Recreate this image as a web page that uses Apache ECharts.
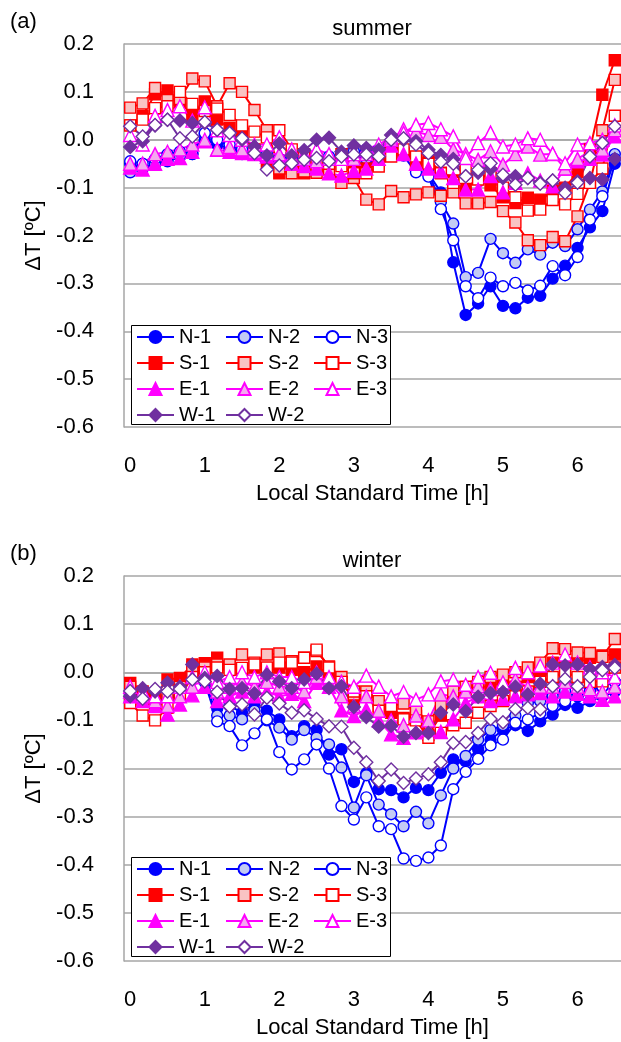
<!DOCTYPE html>
<html><head><meta charset="utf-8">
<script src="https://cdn.jsdelivr.net/npm/echarts@6/dist/echarts.min.js"></script>
<style>html,body{margin:0;padding:0;background:#fff}#c{width:621px;height:1042px}</style>
</head><body><div id="c"></div>
<script>
// categories: local standard time in minutes (10-min steps)
const timeMin = [0,10,20,30,40,50,60,70,80,90,100,110,120,130,140,150,160,170,180,190,200,210,220,230,240,250,260,270,280,290,300,310,320,330,340,350,360,370,380,390];
const seriesNames = ['N-1','N-2','N-3','S-1','S-2','S-3','E-1','E-2','E-3','W-1','W-2'];

// ---- summer (a) ----
const N1s = [-0.05,-0.06,-0.05,-0.04,-0.035,-0.03,0.0,-0.01,-0.02,-0.025,-0.03,-0.04,-0.05,-0.04,-0.03,-0.04,-0.05,-0.04,-0.03,-0.05,-0.04,-0.02,-0.02,-0.05,-0.07,-0.11,-0.256,-0.366,-0.342,-0.306,-0.347,-0.352,-0.33,-0.326,-0.29,-0.263,-0.226,-0.183,-0.149,-0.05];
const N2s = [-0.068,-0.06,-0.05,-0.045,-0.035,-0.02,0.01,0.0,-0.015,-0.03,-0.03,-0.04,-0.045,-0.03,-0.04,-0.05,-0.04,-0.03,-0.04,-0.04,-0.03,-0.01,-0.02,-0.04,-0.07,-0.13,-0.175,-0.287,-0.278,-0.207,-0.237,-0.257,-0.229,-0.24,-0.215,-0.222,-0.187,-0.146,-0.108,-0.03];
const N3s = [-0.045,-0.05,-0.04,-0.03,-0.025,-0.03,0.014,0.0,-0.01,-0.02,-0.02,-0.03,-0.04,-0.03,-0.03,-0.04,-0.035,-0.03,-0.025,-0.02,-0.02,-0.01,-0.033,-0.068,-0.077,-0.145,-0.21,-0.306,-0.331,-0.288,-0.306,-0.299,-0.315,-0.305,-0.264,-0.283,-0.245,-0.167,-0.118,-0.04];
const S1s = [0.03,0.05,0.095,0.103,0.08,0.05,0.08,0.042,0.025,0.01,-0.02,-0.05,-0.07,-0.06,-0.07,-0.06,-0.05,-0.03,-0.05,-0.06,-0.05,-0.017,-0.03,-0.049,-0.04,-0.069,-0.085,-0.103,-0.08,-0.095,-0.12,-0.132,-0.121,-0.125,-0.107,-0.1,-0.068,-0.02,0.094,0.166];
const S2s = [0.067,0.076,0.108,0.083,0.085,0.128,0.122,0.07,0.118,0.10,0.062,0.02,-0.06,-0.07,-0.066,-0.069,-0.062,-0.09,-0.08,-0.125,-0.135,-0.107,-0.12,-0.114,-0.11,-0.117,-0.11,-0.133,-0.133,-0.13,-0.149,-0.173,-0.21,-0.22,-0.203,-0.212,-0.16,-0.09,0.02,0.125];
const S3s = [0.03,0.042,0.066,0.07,0.10,0.075,0.06,0.065,0.052,0.03,0.017,0.005,0.02,-0.02,-0.03,-0.04,-0.05,-0.055,-0.07,-0.07,-0.056,-0.035,-0.02,-0.035,-0.05,-0.07,-0.09,-0.06,-0.083,-0.07,-0.1,-0.12,-0.148,-0.146,-0.126,-0.135,-0.113,-0.09,-0.06,0.05];
const E1s = [-0.058,-0.062,-0.05,-0.04,-0.038,-0.025,-0.003,-0.021,-0.025,-0.028,-0.03,-0.035,-0.04,-0.05,-0.055,-0.06,-0.07,-0.075,-0.065,-0.06,-0.04,-0.012,-0.03,-0.05,-0.06,-0.066,-0.08,-0.104,-0.104,-0.076,-0.11,-0.09,-0.07,-0.085,-0.097,-0.06,-0.045,-0.04,-0.031,0.007];
const E2s = [-0.05,-0.05,-0.03,-0.025,-0.02,-0.01,0.0,-0.02,-0.015,-0.02,-0.025,-0.03,-0.03,-0.035,-0.04,-0.045,-0.04,-0.035,-0.04,-0.03,-0.02,0.0,0.022,0.017,0.01,0.006,-0.02,-0.03,-0.042,-0.024,-0.052,-0.03,-0.014,-0.031,-0.03,-0.06,-0.04,-0.024,-0.021,0.02];
const E3s = [0.01,-0.01,0.05,0.062,0.07,0.04,0.068,0.02,0.01,0.0,-0.01,-0.01,0.005,-0.02,-0.03,-0.02,-0.03,-0.04,-0.03,-0.02,-0.01,0.005,0.014,0.031,0.035,0.022,0.007,-0.038,-0.007,0.015,-0.014,-0.01,0.003,0.0,-0.029,-0.049,-0.01,-0.007,0.0,0.03];
const W1s = [-0.015,-0.003,0.03,0.042,0.04,0.035,0.035,0.021,0.015,0.0,-0.014,-0.033,-0.008,-0.033,-0.022,0.0,0.004,-0.025,-0.012,-0.017,-0.021,0.01,0.0,-0.003,-0.021,-0.032,-0.04,-0.076,-0.069,-0.061,-0.08,-0.076,-0.08,-0.09,-0.085,-0.1,-0.087,-0.08,-0.083,-0.04];
const W2s = [0.028,0.007,0.031,0.042,0.003,0.007,0.037,0.021,0.014,0.003,-0.028,-0.062,-0.054,-0.049,-0.042,-0.038,-0.045,-0.035,-0.031,-0.031,-0.035,0.0,0.003,-0.01,-0.028,-0.046,-0.05,-0.076,-0.0625,-0.049,-0.073,-0.094,-0.08,-0.092,-0.085,-0.111,-0.09,-0.035,-0.007,0.028];

// ---- winter (b) ----
const N1w = [-0.04,-0.05,-0.06,-0.05,-0.03,0.0,-0.01,-0.075,-0.07,-0.084,-0.064,-0.08,-0.098,-0.133,-0.112,-0.12,-0.171,-0.16,-0.228,-0.21,-0.243,-0.245,-0.26,-0.24,-0.245,-0.209,-0.181,-0.185,-0.16,-0.14,-0.12,-0.11,-0.122,-0.102,-0.088,-0.068,-0.074,-0.06,-0.05,-0.04];
const N2w = [-0.05,-0.055,-0.06,-0.05,-0.035,-0.005,-0.02,-0.09,-0.09,-0.098,-0.08,-0.1,-0.115,-0.14,-0.12,-0.136,-0.15,-0.198,-0.281,-0.214,-0.275,-0.295,-0.32,-0.29,-0.314,-0.256,-0.2,-0.174,-0.14,-0.12,-0.11,-0.09,-0.064,-0.06,-0.05,-0.039,-0.05,-0.04,-0.03,-0.02];
const N3w = [-0.05,-0.06,-0.07,-0.06,-0.04,-0.01,-0.02,-0.102,-0.112,-0.152,-0.127,-0.098,-0.166,-0.202,-0.181,-0.15,-0.2,-0.278,-0.306,-0.26,-0.32,-0.326,-0.387,-0.392,-0.385,-0.36,-0.243,-0.207,-0.18,-0.152,-0.14,-0.105,-0.098,-0.085,-0.07,-0.06,-0.05,-0.04,-0.03,-0.02];
const S1w = [-0.022,-0.04,-0.05,-0.015,-0.012,0.016,0.019,0.03,0.012,0.005,0.01,0.0,0.01,0.005,0.0,0.012,-0.005,-0.02,-0.057,-0.05,-0.07,-0.084,-0.095,-0.091,-0.13,-0.09,-0.06,-0.04,-0.03,-0.03,-0.02,-0.03,-0.01,-0.01,0.02,0.015,0.02,0.03,0.035,0.037];
const S2w = [-0.03,-0.06,-0.07,-0.05,-0.03,0.01,0.01,0.016,0.016,0.037,0.02,0.037,0.039,0.023,0.03,0.044,0.012,-0.01,-0.046,-0.04,-0.06,-0.07,-0.065,-0.08,-0.102,-0.07,-0.04,-0.03,-0.02,-0.01,-0.005,0.0,0.01,0.02,0.05,0.048,0.041,0.04,0.032,0.069];
const S3w = [-0.064,-0.09,-0.1,-0.074,-0.05,-0.01,0.0,0.01,0.005,0.009,0.016,0.01,0.02,0.02,0.03,0.047,0.01,-0.02,-0.04,-0.05,-0.08,-0.07,-0.098,-0.1,-0.136,-0.126,-0.11,-0.105,-0.084,-0.07,-0.06,-0.05,-0.04,-0.02,-0.01,0.0,-0.01,-0.02,-0.019,0.01];
const E1w = [-0.05,-0.06,-0.07,-0.088,-0.067,-0.048,-0.03,-0.06,-0.05,-0.04,-0.05,-0.04,-0.05,-0.045,-0.06,-0.022,-0.03,-0.079,-0.091,-0.077,-0.1,-0.129,-0.136,-0.125,-0.12,-0.124,-0.098,-0.064,-0.05,-0.06,-0.055,-0.05,-0.046,-0.043,-0.05,-0.04,-0.045,-0.05,-0.057,-0.05];
const E2w = [-0.04,-0.05,-0.06,-0.07,-0.05,-0.03,-0.01,-0.04,-0.03,-0.02,-0.03,-0.02,-0.03,-0.03,-0.04,-0.01,-0.02,-0.05,-0.07,-0.05,-0.08,-0.1,-0.11,-0.09,-0.1,-0.046,-0.05,-0.04,-0.029,-0.035,-0.03,-0.015,-0.032,-0.03,-0.03,-0.02,-0.03,-0.035,-0.04,-0.03];
const E3w = [-0.03,-0.04,-0.05,-0.05,-0.03,-0.01,0.0,-0.02,-0.01,0.0,-0.01,0.0,-0.01,-0.01,-0.02,0.0,-0.01,-0.02,-0.03,-0.007,-0.03,-0.05,-0.041,-0.057,-0.046,-0.019,-0.015,-0.026,-0.01,-0.001,-0.021,0.009,0.0,0.014,0.02,0.037,0.02,0.01,0.0,-0.01];
const W1w = [-0.05,-0.033,-0.04,-0.022,-0.03,0.016,-0.012,-0.008,-0.035,-0.033,-0.044,-0.005,-0.019,-0.033,-0.015,-0.003,-0.033,-0.029,-0.072,-0.093,-0.113,-0.111,-0.134,-0.126,-0.126,-0.084,-0.067,-0.081,-0.051,-0.043,-0.041,-0.03,-0.046,-0.024,0.016,0.014,0.016,0.007,0.011,0.015];
const W2w = [-0.039,-0.055,-0.035,-0.04,-0.035,-0.015,-0.019,-0.041,-0.071,-0.067,-0.088,-0.053,-0.065,-0.084,-0.079,-0.097,-0.112,-0.113,-0.157,-0.187,-0.226,-0.202,-0.23,-0.221,-0.212,-0.187,-0.147,-0.145,-0.126,-0.097,-0.104,-0.077,-0.074,-0.077,-0.029,-0.014,-0.029,-0.01,0.004,0.009];

const summerData = [N1s,N2s,N3s,S1s,S2s,S3s,E1s,E2s,E3s,W1s,W2s];
const winterData = [N1w,N2w,N3w,S1w,S2w,S3w,E1w,E2w,E3w,W1w,W2w];

const FONT = '"Liberation Sans", Arial, sans-serif';
const styles = {
  'N-1': {c:'#0000ff', f:'#0000ff', s:'circle'},
  'N-2': {c:'#0000ff', f:'#c3cbf4', s:'circle'},
  'N-3': {c:'#0000ff', f:'#ffffff', s:'circle'},
  'S-1': {c:'#ff0000', f:'#ff0000', s:'rect'},
  'S-2': {c:'#ff0000', f:'#f9c3c3', s:'rect'},
  'S-3': {c:'#ff0000', f:'#ffffff', s:'rect'},
  'E-1': {c:'#ff00ff', f:'#ff00ff', s:'triangle'},
  'E-2': {c:'#ff00ff', f:'#f5a8ef', s:'triangle'},
  'E-3': {c:'#ff00ff', f:'#ffffff', s:'triangle'},
  'W-1': {c:'#7030a0', f:'#7030a0', s:'diamond'},
  'W-2': {c:'#7030a0', f:'#ffffff', s:'diamond'}
};
const symSize = {circle:11, rect:11, triangle:13, diamond:13};

const GRID_LINE = '#a6a6a6';
const grids = [
  {left:124, top:44, width:503, height:383},
  {left:124, top:576, width:503, height:385}
];

function xAxisFor(i){
  return {
    type:'category', gridIndex:i, data:timeMin, boundaryGap:true,
    axisTick:{show:false},
    axisLine:{show:true, lineStyle:{color:GRID_LINE, width:1.5}},
    axisLabel:{
      interval:function(idx){ return idx % 6 === 0; },
      formatter:function(v){ return String(Number(v)/60); },
      fontSize:22, color:'#000', fontFamily:FONT, margin:28
    },
    name:'Local Standard Time [h]', nameLocation:'middle', nameGap:56,
    nameTextStyle:{fontSize:22, color:'#000', fontFamily:FONT}
  };
}
function yAxisFor(i){
  return {
    type:'value', gridIndex:i, min:-0.6, max:0.2, interval:0.1,
    axisLine:{show:true, lineStyle:{color:GRID_LINE, width:1.5}},
    axisTick:{show:false},
    splitLine:{show:true, lineStyle:{color:GRID_LINE, width:1.5}},
    axisLabel:{
      formatter:function(v){ return Math.abs(v) < 1e-9 ? '0.0' : v.toFixed(1); },
      fontSize:22, color:'#000', fontFamily:FONT, margin:30
    },
    name:'\u0394T [\u00baC]', nameLocation:'middle', nameGap:68, nameRotate:90,
    nameTextStyle:{fontSize:22, color:'#000', fontFamily:FONT}
  };
}

const series = [];
[summerData, winterData].forEach(function(set, p){
  seriesNames.forEach(function(nm, k){
    const st = styles[nm];
    series.push({
      type:'line', name:nm, xAxisIndex:p, yAxisIndex:p, data:set[k],
      symbol:st.s, symbolSize:symSize[st.s], showSymbol:true, showAllSymbol:true,
      z:2,
      lineStyle:{color:st.c, width:2},
      itemStyle:{color:st.f, borderColor:st.c, borderWidth:1.4},
      emphasis:{disabled:true}, animation:false
    });
  });
});

const legendCols = [['N-1','S-1','E-1','W-1'],['N-2','S-2','E-2','W-2'],['N-3','S-3','E-3']];
const legendLeft = [136, 225, 313];
const legendTop = [327, 859];
const legends = [];
legendTop.forEach(function(t){
  legendCols.forEach(function(col, c){
    legends.push({
      orient:'vertical', left:legendLeft[c], top:t, data:col, padding:0,
      itemWidth:37, itemHeight:15, itemGap:6, selectedMode:false, z:20,
      textStyle:{fontSize:20, color:'#000', fontFamily:FONT, lineHeight:18}
    });
  });
});

const graphics = [
  {type:'rect', shape:{x:131.5, y:325.5, width:259, height:99}, style:{fill:'#fff', stroke:'#000', lineWidth:1}, z:10},
  {type:'rect', shape:{x:131.5, y:857.5, width:259, height:99}, style:{fill:'#fff', stroke:'#000', lineWidth:1}, z:10},
  {type:'text', x:10, y:22, style:{text:'(a)', font:'22px '+FONT, fill:'#000', textVerticalAlign:'middle'}},
  {type:'text', x:372, y:29, style:{text:'summer', font:'22px '+FONT, fill:'#000', textAlign:'center', textVerticalAlign:'middle'}},
  {type:'text', x:10, y:554, style:{text:'(b)', font:'22px '+FONT, fill:'#000', textVerticalAlign:'middle'}},
  {type:'text', x:372, y:561, style:{text:'winter', font:'22px '+FONT, fill:'#000', textAlign:'center', textVerticalAlign:'middle'}}
];

const chart = echarts.init(document.getElementById('c'), null, {renderer:'canvas'});
chart.setOption({
  animation:false,
  backgroundColor:'#fff',
  grid:grids,
  xAxis:[xAxisFor(0), xAxisFor(1)],
  yAxis:[yAxisFor(0), yAxisFor(1)],
  legend:legends,
  graphic:graphics,
  series:series
});
</script></body></html>
